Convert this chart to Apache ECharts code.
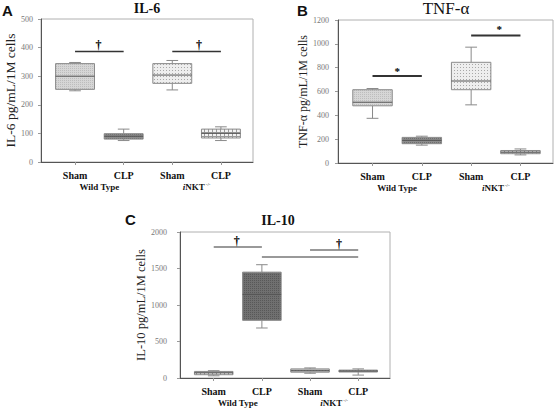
<!DOCTYPE html>
<html><head><meta charset="utf-8">
<script src="https://cdn.jsdelivr.net/npm/echarts@6/dist/echarts.min.js"></script>
<style>html,body{margin:0;padding:0;background:#fff}#c{width:555px;height:408px}</style>
</head><body><div id="c"></div>
<script>
// ---------- data ----------
const categories = ['Sham', 'CLP', 'Sham', 'CLP'];
const groupLabels = ['Wild Type', 'iNKT-/-'];
// [min, Q1, median, Q3, max]
const il6Box = [[249, 254, 300, 344, 348], [75, 80, 90, 99, 115], [252, 275, 304, 344, 355], [75, 84, 100, 115, 123]];
const tnfBox = [[375, 480, 510, 615, 625], [150, 162, 190, 215, 225], [488, 615, 688, 845, 972], [68, 78, 92, 105, 118]];
const il10Box = [[30, 45, 70, 90, 100], [685, 790, 1145, 1450, 1552], [65, 80, 100, 125, 138], [40, 82, 95, 108, 125]];
// significance bars [xFrom, xTo, y]
const il6Sig = [[1, 2, 386], [3, 4, 386]];
const tnfSig = [[1, 2, 730], [3, 4, 1070]];
const il10Sig = [[1, 2, 1795], [2, 4, 1657], [3, 4, 1753]];
// significance marks [x, y, glyph]
const il6Marks = [[1.48, 408, '†'], [3.55, 408, '†']];
const tnfMarks = [[1.5, 770, '*'], [3.57, 1125, '*']];
const il10Marks = [[1.48, 1875, '†'], [3.6, 1840, '†']];
// y axis ranges
const il6Axis = [0, 500, 100];
const tnfAxis = [0, 1200, 200];
const il10Axis = [0, 2000, 500];

// ---------- patterns ----------
function tile(w, h, bg, pts) {
  const cv = document.createElement('canvas');
  cv.width = w; cv.height = h;
  const ctx = cv.getContext('2d');
  ctx.fillStyle = bg; ctx.fillRect(0, 0, w, h);
  pts.forEach(p => { ctx.fillStyle = p[2]; ctx.fillRect(p[0], p[1], p[3] || 1, p[4] || 1); });
  return { image: cv, repeat: 'repeat' };
}
const P = {
  fine: tile(2, 2, '#d6d6d6', [[0, 0, '#bdbdbd']]),
  dark: tile(2, 2, '#8c8c8c', [[0, 0, '#6f6f6f']]),
  darker: tile(2, 2, '#707070', [[0, 0, '#585858']]),
  dots: tile(3, 3, '#eeeeee', [[1, 1, '#a8a8a8']]),
  checker: tile(4, 4, '#f2f2f2', [[0, 0, '#9a9a9a', 4, 1], [0, 0, '#9a9a9a', 1, 4]]),
  mid: tile(3, 3, '#c4c4c4', [[1, 1, '#8f8f8f']]),
  midDark: tile(3, 3, '#a6a6a6', [[1, 1, '#7a7a7a']])
};
const il6Fill = [P.fine, P.dark, P.dots, P.checker];
const tnfFill = [P.fine, P.dark, P.dots, P.checker];
const il10Fill = [P.checker, P.darker, P.mid, P.midDark];

const SERIF = 'Liberation Serif';

function boxSeries(gi, data, fills) {
  return {
    type: 'custom', xAxisIndex: gi * 2, yAxisIndex: gi, silent: true, z: 3,
    data: data.map((d, i) => [i + 1, d[0], d[1], d[2], d[3], d[4]]),
    renderItem: function (params, api) {
      const x = api.value(0), mn = api.value(1), q1 = api.value(2), md = api.value(3), q3 = api.value(4), mx = api.value(5);
      const hw = 0.4, cw = 0.12;
      const tl = api.coord([x - hw, q3]), br = api.coord([x + hw, q1]);
      const cMax = api.coord([x, mx]), cMin = api.coord([x, mn]);
      const capL = api.coord([x - cw, 0])[0], capR = api.coord([x + cw, 0])[0];
      const mdY = api.coord([x, md])[1];
      const st = { stroke: '#8a8a8a', lineWidth: 1 };
      return {
        type: 'group', children: [
          { type: 'line', shape: { x1: cMax[0], y1: cMax[1], x2: cMax[0], y2: tl[1] }, style: st },
          { type: 'line', shape: { x1: cMin[0], y1: cMin[1], x2: cMin[0], y2: br[1] }, style: st },
          { type: 'line', shape: { x1: capL, y1: cMax[1], x2: capR, y2: cMax[1] }, style: st },
          { type: 'line', shape: { x1: capL, y1: cMin[1], x2: capR, y2: cMin[1] }, style: st },
          { type: 'rect', shape: { x: tl[0], y: tl[1], width: br[0] - tl[0], height: br[1] - tl[1] }, style: { fill: fills[params.dataIndex], stroke: '#8a8a8a', lineWidth: 1 } },
          { type: 'line', shape: { x1: tl[0], y1: mdY, x2: br[0], y2: mdY }, style: { stroke: '#555', lineWidth: 1 } }
        ]
      };
    }
  };
}
function sigSeries(gi, data, color, width) {
  return {
    type: 'custom', xAxisIndex: gi * 2, yAxisIndex: gi, silent: true, z: 4,
    data: data.map(d => [d[0], d[2]]),
    renderItem: function (params, api) {
      const d = data[params.dataIndex];
      const a = api.coord([d[0], d[2]]), b = api.coord([d[1], d[2]]);
      return { type: 'line', shape: { x1: a[0], y1: a[1], x2: b[0], y2: b[1] }, style: { stroke: color, lineWidth: width } };
    }
  };
}
function markSeries(gi, data, size) {
  return {
    type: 'custom', xAxisIndex: gi * 2, yAxisIndex: gi, silent: true, z: 4,
    data: data.map(d => [d[0], d[1]]),
    renderItem: function (params, api) {
      const d = data[params.dataIndex];
      const p = api.coord([d[0], d[1]]);
      return { type: 'text', x: p[0], y: p[1], style: { text: d[2], font: 'bold ' + size + 'px ' + SERIF, fill: '#000', align: 'center', verticalAlign: 'middle' } };
    }
  };
}
function xAxes(gi) {
  return [
    {
      gridIndex: gi, type: 'value', min: 0.3, max: 4.66,
      axisLine: { show: true, lineStyle: { color: '#555' } },
      axisTick: { show: true, customValues: [1, 2, 3, 4], length: 3, lineStyle: { color: '#999' } },
      axisLabel: { customValues: [1, 2, 3, 4], formatter: v => categories[Math.round(v) - 1], fontFamily: SERIF, fontWeight: 'bold', fontSize: 10, color: '#111', margin: 8 },
      splitLine: { show: false }
    },
    {
      gridIndex: gi, type: 'value', min: 0.3, max: 4.66, position: 'bottom',
      axisLine: { show: false }, axisTick: { show: false }, splitLine: { show: false },
      axisLabel: {
        customValues: [1.5, 3.5], margin: 20,
        formatter: v => v < 2 ? '{b|' + groupLabels[0] + '}' : '{i|i}{b|NKT}{s|-/-}',
        rich: {
          b: { fontFamily: SERIF, fontWeight: 'bold', fontSize: 9, color: '#111', lineHeight: 10 },
          i: { fontFamily: SERIF, fontWeight: 'bold', fontStyle: 'italic', fontSize: 9, color: '#111', lineHeight: 10 },
          s: { fontFamily: SERIF, fontSize: 5, color: '#111', lineHeight: 10, verticalAlign: 'top', padding: [0, 0, 4, 1] }
        }
      }
    }
  ];
}
function yAxis(gi, rng, name, gap, nsize, margin) {
  return {
    gridIndex: gi, type: 'value', min: rng[0], max: rng[1], interval: rng[2],
    axisLine: { show: true, lineStyle: { color: '#555' } },
    axisTick: { show: true, length: 3, lineStyle: { color: '#999' } },
    axisLabel: { fontFamily: SERIF, fontSize: 8, color: '#777', margin: margin, formatter: v => String(v) },
    splitLine: { show: false },
    name: name, nameLocation: 'middle', nameRotate: 90, nameGap: gap,
    nameTextStyle: { fontFamily: SERIF, fontSize: nsize, color: '#222' }
  };
}
const gridStyle = { show: true, borderColor: '#b0b0b0', borderWidth: 1, backgroundColor: 'transparent' };
const chart = echarts.init(document.getElementById('c'), null, { renderer: 'svg' });
chart.setOption({
  animation: false,
  backgroundColor: '#fff',
  grid: [
    Object.assign({ left: 41, top: 19, width: 212, height: 143 }, gridStyle),
    Object.assign({ left: 338, top: 20, width: 215, height: 143 }, gridStyle),
    Object.assign({ left: 180, top: 232, width: 210, height: 146 }, gridStyle)
  ],
  xAxis: [].concat(xAxes(0), xAxes(1), xAxes(2)),
  yAxis: [
    yAxis(0, il6Axis, 'IL-6 pg/mL/1M cells', 24, 13.5, 8),
    yAxis(1, tnfAxis, 'TNF-α pg/mL/1M cells', 27, 12, 9),
    yAxis(2, il10Axis, 'IL-10 pg/mL/1M cells', 28, 12.5, 13)
  ],
  graphic: [
    { type: 'text', x: 2, y: 3, style: { text: 'A', font: 'bold 15px Liberation Sans', fill: '#111' } },
    { type: 'text', x: 297, y: 3, style: { text: 'B', font: 'bold 15px Liberation Sans', fill: '#111' } },
    { type: 'text', x: 125, y: 212, style: { text: 'C', font: 'bold 15px Liberation Sans', fill: '#111' } },
    { type: 'text', x: 147, y: 8, style: { text: 'IL-6', font: 'bold 14px ' + SERIF, fill: '#111', align: 'center', verticalAlign: 'middle' } },
    { type: 'text', x: 446, y: 8, style: { text: 'TNF-α', font: '17px ' + SERIF, fill: '#111', align: 'center', verticalAlign: 'middle' } },
    { type: 'text', x: 278, y: 220, style: { text: 'IL-10', font: 'bold 14px ' + SERIF, fill: '#111', align: 'center', verticalAlign: 'middle' } }
  ],
  series: [
    boxSeries(0, il6Box, il6Fill), sigSeries(0, il6Sig, '#333', 1.5), markSeries(0, il6Marks, 12),
    boxSeries(1, tnfBox, tnfFill), sigSeries(1, tnfSig, '#333', 2), markSeries(1, tnfMarks, 11),
    boxSeries(2, il10Box, il10Fill), sigSeries(2, il10Sig, '#777', 1.5), markSeries(2, il10Marks, 12)
  ]
});
</script></body></html>
